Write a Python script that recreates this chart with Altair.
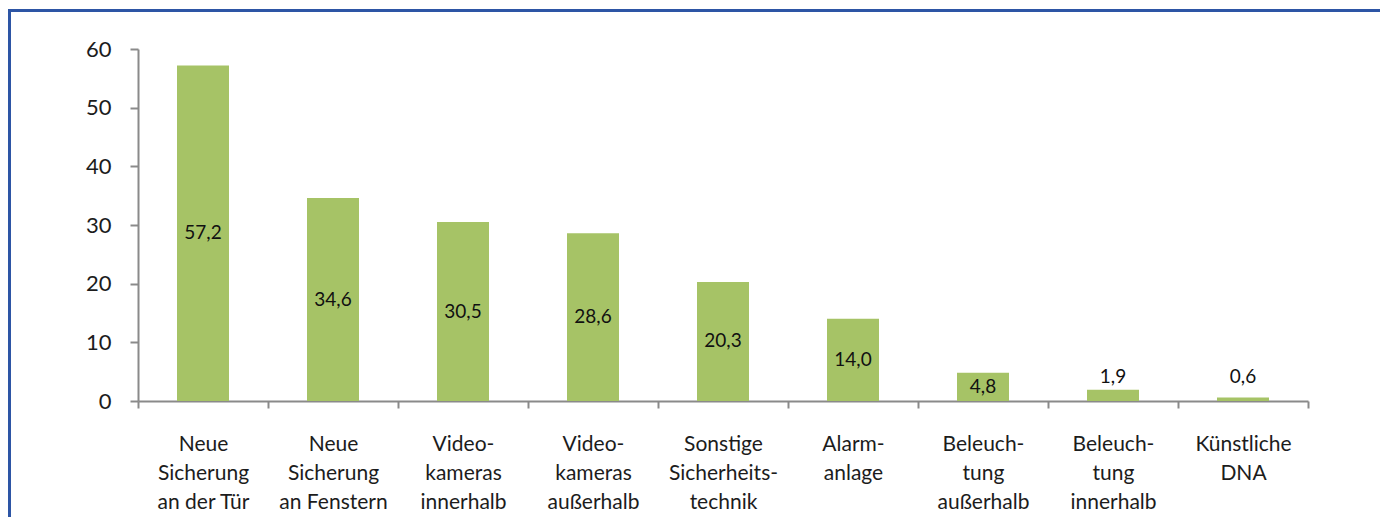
import altair as alt
import pandas as pd

categories = [
    "Neue|Sicherung|an der Tür",
    "Neue|Sicherung|an Fenstern",
    "Video-|kameras|innerhalb",
    "Video-|kameras|außerhalb",
    "Sonstige|Sicherheits-|technik",
    "Alarm-|anlage",
    "Beleuch-|tung|außerhalb",
    "Beleuch-|tung|innerhalb",
    "Künstliche|DNA",
]
values = [57.2, 34.6, 30.5, 28.6, 20.3, 14.0, 4.8, 1.9, 0.6]
y_ticks = [0, 10, 20, 30, 40, 50, 60]

df = pd.DataFrame({"cat": categories, "v": values})

FONT = "Lato"
AXIS_GREY = "#8a8a8a"
TEXT = "#1c1c1c"
GREEN = "#A6C366"
BLUE = "#2D55A5"

x_enc = alt.X(
    "cat:N",
    sort=categories,
    scale=alt.Scale(paddingInner=0, paddingOuter=0),
    axis=alt.Axis(
        title=None,
        labelExpr="split(datum.label, '|')",
        labelAngle=0,
        labelFont=FONT,
        labelFontSize=21,
        labelColor=TEXT,
        labelLineHeight=29,
        labelPadding=25,
        labelBaseline="top",
        tickBand="extent",
        tickSize=7,
        tickWidth=2,
        tickColor=AXIS_GREY,
        domainColor=AXIS_GREY,
        domainWidth=2,
    ),
)

y_scale = alt.Scale(domain=[0, 60], nice=False)
y_axis = alt.Axis(
    values=y_ticks,
    title=None,
    grid=False,
    tickSize=8,
    tickWidth=2,
    tickColor=AXIS_GREY,
    domainColor=AXIS_GREY,
    domainWidth=2,
    labelPadding=19,
    labelFont=FONT,
    labelFontSize=22,
    labelColor=TEXT,
)

base = alt.Chart(df)

bars = base.mark_bar(color=GREEN, width=alt.RelativeBandSize(0.4)).encode(
    x=x_enc,
    y=alt.Y("v:Q", scale=y_scale, axis=y_axis),
)

labels = base.transform_calculate(
    lab="replace(format(datum.v, '.1f'), '.', ',')",
    ly="datum.v >= 3 ? datum.v / 2 : 4.1",
).mark_text(font=FONT, fontSize=19, color="#111111", baseline="middle").encode(
    x=alt.X("cat:N", sort=categories),
    y=alt.Y("ly:Q", scale=y_scale),
    text="lab:N",
)

frame_df = pd.DataFrame({"a": [0]})
frame_top = alt.Chart(frame_df).mark_rule(color=BLUE, strokeWidth=3).encode(
    x=alt.value(-130), x2=alt.value(1242), y=alt.value(-38.5)
)
frame_left = alt.Chart(frame_df).mark_rule(color=BLUE, strokeWidth=3).encode(
    x=alt.value(-128.5), y=alt.value(-40), y2=alt.value(490)
)

chart = (
    alt.layer(bars, labels, frame_top, frame_left)
    .properties(
        width=1170,
        height=352,
        autosize=alt.AutoSizeParams(type="none"),
        padding={"left": 130, "top": 41, "right": 72, "bottom": 118},
        background="white",
    )
    .configure_view(strokeWidth=0)
)

chart.save("out.html", embed_options={"renderer": "svg", "actions": False})
